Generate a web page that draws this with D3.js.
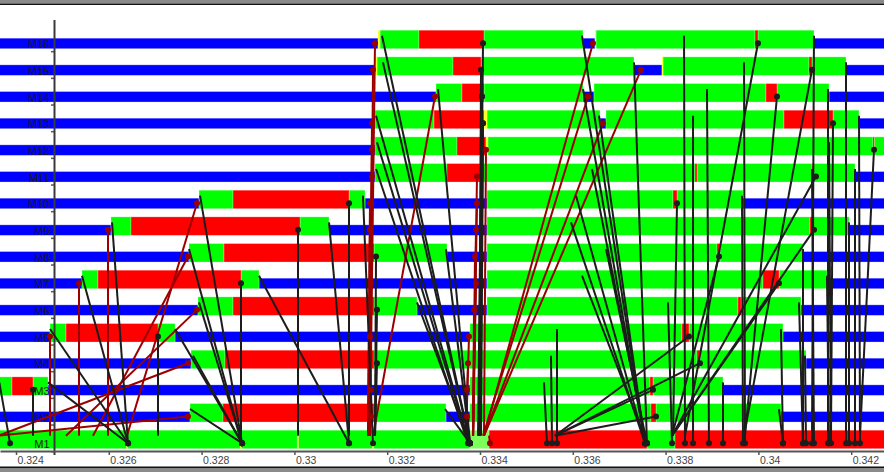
<!DOCTYPE html>
<html><head><meta charset="utf-8">
<script src="https://cdn.jsdelivr.net/npm/d3@7"></script>
<style>body{margin:0;background:#fff;} svg{display:block;font-family:"Liberation Sans",Arial,sans-serif;}</style>
</head><body><svg id="c" width="884" height="472"></svg>
<script>
// ---------- DATA (times in ms; axis labels in seconds) ----------
const rowNames = ["M16","M15","M14","M13","M12","M11","M10","M9","M8","M7","M6","M5","M4","M3","M2","M1"];
const tickValues = [324,326,328,330,332,334,336,338,340,342];
const tickLabels = ["0.324","0.326","0.328","0.33","0.332","0.334","0.336","0.338","0.34","0.342"];

// [row, start, end]
const blueSegs = [
 [16,323.5,331.802],[16,336.220,336.478],[16,341.198,343.2],
 [15,323.5,331.737],[15,337.319,337.922],[15,341.888,343.2],
 [14,323.5,333.052],[14,336.220,336.457],[14,341.522,343.2],
 [13,323.5,331.737],[13,336.586,336.716],[13,342.168,343.2],
 [12,323.5,331.737],
 [11,323.5,331.737],[11,342.082,343.2],
 [10,323.5,327.944],[10,331.522,334.151],[10,339.668,343.2],
 [9,323.5,326.047],[9,330.746,334.151],[9,341.953,343.2],
 [8,323.5,327.728],[8,333.289,334.151],[8,340.961,343.2],
 [7,323.5,325.422],[7,329.237,334.151],[7,341.478,343.2],
 [6,323.5,327.922],[6,332.642,334.151],[6,340.918,343.2],
 [5,323.5,324.733],[5,327.427,333.784],[5,340.530,343.2],
 [4,323.5,327.772],[4,341.026,343.2],
 [3,324.690,333.784],[3,339.237,343.2],
 [2,323.5,327.750],[2,333.267,333.784],[2,340.487,343.2]
];
const greenSegs = [
 [16,331.845,332.685],[16,334.086,336.220],[16,336.50,339.927],[16,339.991,341.198],
 [15,331.780,333.418],[15,334.022,337.319],[15,337.944,341.091],[15,341.155,341.888],
 [14,333.052,333.612],[14,334.086,336.220],[14,336.457,340.164],[14,340.401,341.522],
 [13,331.737,333.009],[13,334.151,336.586],[13,336.716,340.552],[13,341.608,342.168],
 [12,331.737,333.504],[12,334.17,342.470],[12,342.50,343.2],
 [11,331.737,333.289],[11,334.000,338.634],[11,338.677,341.155],[11,341.177,342.082],
 [10,327.944,328.677],[10,331.177,331.522],[10,334.151,338.159],[10,338.246,339.668],
 [9,326.047,326.478],[9,330.121,330.746],[9,334.151,341.112],[9,341.177,341.953],
 [8,327.728,328.483],[8,331.715,333.289],[8,334.151,339.108],[8,339.172,340.961],
 [7,325.422,325.767],[7,328.849,329.237],[7,334.151,340.099],[7,340.444,341.478],
 [6,327.922,328.677],[6,331.715,332.642],[6,334.151,339.560],[6,339.625,340.918],
 [5,324.733,325.078],[5,327.060,327.427],[5,333.784,338.353],[5,338.504,340.530],
 [4,327.772,328.504],[4,331.715,338.677],[4,338.741,341.026],
 [3,323.5,323.914],[3,324.366,324.690],[3,333.784,337.664],[3,337.728,339.237],
 [2,327.750,328.461],[2,331.715,333.267],[2,333.784,337.685],[2,337.793,340.487],
 [1,323.5,333.784],[1,337.599,338.203]
];
const redSegs = [
 [16,332.685,334.086],[16,339.927,339.991],
 [15,333.418,334.022],[15,341.091,341.155],
 [14,333.612,334.086],[14,340.164,340.401],
 [13,333.009,334.086],[13,340.552,341.608],
 [12,333.504,334.129],[12,342.470,342.50],
 [11,333.289,334.000],[11,338.634,338.677],[11,341.155,341.177],
 [10,328.677,331.177],[10,338.159,338.246],
 [9,326.478,330.121],[9,341.112,341.177],
 [8,328.483,331.715],[8,339.108,339.172],
 [7,325.767,328.849],[7,340.099,340.444],
 [6,328.677,331.715],[6,339.560,339.625],
 [5,325.078,327.060],[5,338.353,338.504],
 [4,328.504,331.715],[4,338.677,338.741],
 [3,323.914,324.366],[3,337.664,337.728],
 [2,328.461,331.715],[2,337.685,337.793],
 [1,334.194,337.599],[1,338.203,343.2]
];
const lightSegs = [[1,333.784,334.194]];
const yellowSegs = [
 [16,331.802,331.845],[16,336.478,336.50],
 [15,331.737,331.780],[15,337.922,337.944],
 [13,334.086,334.151],[12,334.129,334.17],
 [1,326.38,326.41],[1,328.83,328.86],[1,330.06,330.09],[1,331.68,331.71]
];

// messages: [fromRow, sendTime, toRow, recvTime]
const blackMsgs = [
 [3,323.64,1,323.871],[1,324.366,3,324.366],
 [5,324.733,1,326.414],[3,324.690,1,326.414],[7,325.422,1,326.414],[9,326.069,1,326.414],
 [1,327.060,5,327.060],
 [5,327.427,1,328.871],[10,327.966,1,328.871],[8,327.728,1,328.871],[6,327.944,1,328.871],[4,327.815,1,328.871],[2,327.750,1,328.871],
 [1,328.849,7,328.849],
 [7,329.237,1,331.177],[9,330.746,1,331.177],[1,330.078,9,330.078],[1,331.177,10,331.177],
 [10,331.478,1,331.694],
 [1,331.737,8,331.759],[1,331.737,6,331.780],[1,331.737,4,331.780],
 [16,331.888,1,333.784],[15,331.909,1,333.784],[14,333.095,1,333.784],[13,331.759,1,333.763],
 [12,331.780,1,333.763],[11,331.759,1,333.741],[8,333.267,1,333.784],[6,332.642,1,333.784],[2,333.246,1,333.784],
 [1,333.978,16,334.065],[1,333.978,15,334.022],[1,333.978,14,334.043],[1,334.000,13,334.065],
 [1,333.957,14,334.043],[1,334.022,13,334.065],
 [16,336.198,1,337.556],[15,337.319,1,337.599],[14,336.220,1,337.556],[13,336.565,1,337.556],
 [10,336.069,1,337.556],[9,335.961,1,337.556],[8,336.716,1,337.599],[7,336.198,1,337.599],[11,336.414,1,337.577],
 [3,335.379,1,335.444],[4,335.530,1,335.552],[5,335.659,1,335.659],
 [1,335.616,3,337.728],[1,335.616,2,337.793],[1,335.616,5,338.504],[1,335.616,4,338.741],
 [1,338.138,9,341.198],[1,338.138,11,341.241],[1,338.138,7,340.444],[1,338.138,8,339.151],
 [1,338.159,10,338.246],[6,338.052,1,338.138],
 [16,338.397,1,338.418],[13,338.591,1,338.591],[14,338.892,1,338.935],[3,339.237,1,339.237],
 [15,339.690,1,339.711],[10,339.647,1,339.668],[2,340.444,1,340.530],[5,340.487,1,340.530],
 [6,340.875,1,340.961],[8,340.961,1,340.961],[4,341.004,1,341.026],[16,341.198,1,341.155],
 [11,341.155,1,341.198],[14,341.500,1,341.500],[7,341.478,1,341.522],[12,341.522,1,341.565],
 [15,341.888,1,341.888],[9,341.953,1,341.953],[11,342.082,1,342.082],[13,342.168,1,342.190],
 [1,338.418,16,339.991],[1,339.690,15,341.155],[1,339.711,14,340.401],
 [1,341.565,13,341.608],[1,342.190,12,342.491]
];
const redMsgs = [
 [1,323.62,4,327.707],[1,323.62,2,327.707],
 [1,324.733,5,324.733],[1,325.358,7,325.358],[1,325.983,9,325.983],
 [1,325.078,6,327.901],[1,325.659,8,327.707],[1,326.392,10,327.901],
 [1,331.629,16,331.737],[1,331.629,15,331.694],[1,331.608,13,331.672],[1,331.608,12,331.672],[1,331.608,11,331.672],
 [1,331.586,10,331.629],[1,331.586,9,331.629],[1,331.608,7,331.651],[1,331.608,5,331.629],[1,331.629,3,331.651],[1,331.629,2,331.651],
 [1,331.694,14,333.030],
 [1,333.698,2,333.720],[1,333.698,3,333.720],[1,333.698,4,333.741],[1,333.698,5,333.763],
 [1,333.850,6,333.871],[1,333.850,7,333.914],[1,333.850,8,333.892],[1,333.850,9,333.914],
 [1,333.850,10,333.935],[1,333.850,11,333.935],[1,334.086,12,334.129],
 [1,334.086,16,336.435],[1,334.086,15,337.470],[1,334.065,14,336.328],[1,334.086,13,336.651],
 [1,334.194,1,334.216]
];

// ---------- DRAW ----------
const W = 884, H = 472;
const svg = d3.select("#c");
const x = d3.scaleLinear().domain([323.655, 342.707]).range([0, W]);
const y = d3.scaleBand().domain(rowNames).range([22.03, 448.7]);
const bw = y.bandwidth();
const yb = k => y("M" + k) + bw;
const sendY = k => yb(k) - 13;
const recvY = k => yb(k) - 5.5;

// frame
svg.append("rect").attr("x",0).attr("y",0).attr("width",W).attr("height",3.5).attr("fill","#8a8a8a");
svg.append("line").attr("x1",0).attr("x2",W).attr("y1",4.2).attr("y2",4.2).attr("stroke","#111").attr("stroke-width",1.5);

// bars
function bars(data, color, h) {
  svg.append("g").selectAll("rect").data(data).join("rect")
    .attr("x", d => x(d[1]))
    .attr("y", d => yb(d[0]) - h)
    .attr("width", d => Math.max(0.8, x(d[2]) - x(d[1])))
    .attr("height", h)
    .attr("fill", color)
    .attr("stroke", "rgba(255,255,255,0.35)")
    .attr("stroke-width", 0.8);
}
bars(blueSegs, "#0000ff", 10.5);
bars(greenSegs, "#00ff00", 18.5);
bars(redSegs, "#ff0000", 18.5);
bars(lightSegs, "#7dff5a", 18.5);
bars(yellowSegs, "#ffff00", 18.5);

// y axis
const yAxis = svg.append("g");
yAxis.selectAll("text").data(rowNames).join("text")
  .attr("x", 49.5).attr("y", d => y(d) + bw - 0.3)
  .attr("text-anchor", "end").attr("font-size", 11).attr("fill", "#1a1a1a")
  .text(d => d);
yAxis.selectAll("line.t").data(rowNames).join("line").attr("class","t")
  .attr("x1", 51).attr("x2", 54).attr("y1", d => y(d) + bw + 3).attr("y2", d => y(d) + bw + 3)
  .attr("stroke", "#555").attr("stroke-width", 1.5);
yAxis.append("line").attr("x1",54.5).attr("x2",54.5).attr("y1",20).attr("y2",455)
  .attr("stroke","#3a3a3a").attr("stroke-width",2);

// messages
const gMsg = svg.append("g");
gMsg.selectAll("line.r").data(redMsgs).join("line").attr("class","r")
  .attr("x1", d => x(d[1])).attr("y1", d => sendY(d[0]))
  .attr("x2", d => x(d[3])).attr("y2", d => recvY(d[2]))
  .attr("stroke", "#9b0000").attr("stroke-width", 2);
gMsg.selectAll("line.b").data(blackMsgs).join("line").attr("class","b")
  .attr("x1", d => x(d[1])).attr("y1", d => sendY(d[0]))
  .attr("x2", d => x(d[3])).attr("y2", d => recvY(d[2]))
  .attr("stroke", "#1c1c1c").attr("stroke-width", 2);
gMsg.selectAll("circle.b").data(blackMsgs).join("circle").attr("class","b")
  .attr("cx", d => x(d[3])).attr("cy", d => recvY(d[2])).attr("r", 3).attr("fill", "#1c1c1c");
gMsg.selectAll("circle.r").data(redMsgs).join("circle").attr("class","r")
  .attr("cx", d => x(d[3])).attr("cy", d => recvY(d[2])).attr("r", 3).attr("fill", "#9b0000");

// x axis
const xAxis = svg.append("g").attr("transform", "translate(0,451)")
  .call(d3.axisBottom(x).tickValues(tickValues).tickFormat((d,i) => tickLabels[i]).tickSize(4).tickSizeOuter(0));
xAxis.select(".domain").attr("stroke","#555").attr("stroke-width",2);
xAxis.selectAll(".tick line").attr("stroke","#555").attr("stroke-width",1.5);
xAxis.selectAll(".tick text").attr("text-anchor","start").attr("x",1).attr("y",13).attr("dy",0)
  .attr("font-size",10.5).attr("font-family","Liberation Sans, Arial, sans-serif").attr("fill","#444");

// bottom frame
svg.append("rect").attr("x",0).attr("y",466.5).attr("width",W).attr("height",2).attr("fill","#111");
svg.append("rect").attr("x",0).attr("y",468.5).attr("width",W).attr("height",3.5).attr("fill","#8a8a8a");
</script>
</body></html>
